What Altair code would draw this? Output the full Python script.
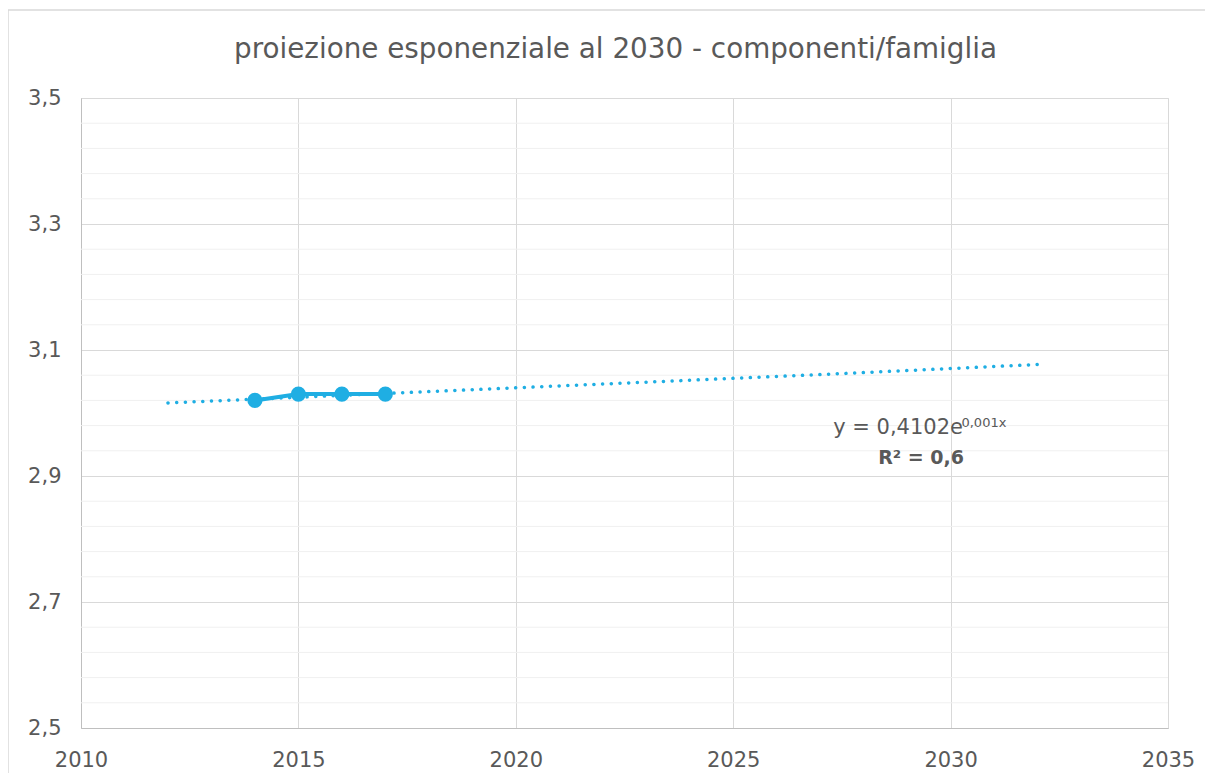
import altair as alt
import pandas as pd

# observed data
years = [2014, 2015, 2016, 2017]
values = [3.02, 3.03, 3.03, 3.03]

# exponential trendline
trend_years = [2012, 2017, 2022, 2027, 2032]
trend_values = [3.016, 3.031, 3.046, 3.061, 3.077]

# axes
x_ticks = [2010, 2015, 2020, 2025, 2030, 2035]
y_ticks = [2.5, 2.7, 2.9, 3.1, 3.3, 3.5]
y_minor = [2.54, 2.58, 2.62, 2.66, 2.74, 2.78, 2.82, 2.86, 2.94, 2.98, 3.02, 3.06,
           3.14, 3.18, 3.22, 3.26, 3.34, 3.38, 3.42, 3.46]

title_text = "proiezione esponenziale al 2030 - componenti/famiglia"
eq_main = "y = 0,4102e"
eq_sup = "0,001x"
r2_text = "R² = 0,6"

FONT = "DejaVu Sans"
TXT = "#595959"
BLUE = "#1FAEE3"
W, H = 1087, 630

df = pd.DataFrame({"year": years, "value": values})
tdf = pd.DataFrame({"year": trend_years, "value": trend_values})
mdf = pd.DataFrame({"value": y_minor})

xs = alt.Scale(domain=[2010, 2035], nice=False, zero=False)
ys = alt.Scale(domain=[2.5, 3.5], nice=False, zero=False)

xaxis = alt.Axis(values=x_ticks, format="d", title=None, grid=True, gridColor="#d9d9d9",
                 domainColor="#bfbfbf", ticks=False, labelFont=FONT, labelFontSize=21,
                 labelColor=TXT, labelPadding=21, labelFlush=False)
yaxis = alt.Axis(values=y_ticks, title=None, grid=True, gridColor="#d9d9d9",
                 domainColor="#bfbfbf", ticks=False, labelFont=FONT, labelFontSize=21,
                 labelColor=TXT, labelPadding=20,
                 labelExpr="replace(format(datum.value, '.1f'), '.', ',')")

border = alt.Chart(pd.DataFrame({"a": [0]})).mark_rect(
    fill=None, stroke="#d9d9d9", strokeWidth=1.5
).encode(x=alt.value(-73), x2=alt.value(1140), y=alt.value(-88), y2=alt.value(700))

title = alt.Chart(pd.DataFrame({"t": [title_text]})).mark_text(
    font=FONT, fontSize=27.8, color=TXT, align="center", baseline="middle"
).encode(x=alt.value(W / 2 - 9), y=alt.value(-48), text="t:N")

minor = alt.Chart(mdf).mark_rule(color="#f0f0f0", strokeWidth=1).encode(
    y=alt.Y("value:Q", scale=ys, axis=yaxis)
)

base_axes = alt.Chart(df).mark_point(opacity=0).encode(
    x=alt.X("year:Q", scale=xs, axis=xaxis),
    y=alt.Y("value:Q", scale=ys, axis=yaxis),
)

trend = alt.Chart(tdf).mark_line(
    color=BLUE, strokeWidth=3.5, strokeDash=[0.1, 8.6], strokeCap="round"
).encode(x=alt.X("year:Q", scale=xs), y=alt.Y("value:Q", scale=ys))

line = alt.Chart(df).mark_line(color=BLUE, strokeWidth=4).encode(
    x=alt.X("year:Q", scale=xs), y=alt.Y("value:Q", scale=ys)
)
pts = alt.Chart(df).mark_circle(color=BLUE, size=230, opacity=1).encode(
    x=alt.X("year:Q", scale=xs), y=alt.Y("value:Q", scale=ys)
)

ann = pd.DataFrame({
    "year": [2027.3, 2030.25, 2029.32],
    "value": [2.976, 2.984, 2.929],
    "label": [eq_main, eq_sup, r2_text],
})
t1 = alt.Chart(ann.iloc[[0]]).mark_text(
    font=FONT, fontSize=21, color=TXT, align="left", baseline="middle"
).encode(x=alt.X("year:Q", scale=xs), y=alt.Y("value:Q", scale=ys), text="label:N")
t2 = alt.Chart(ann.iloc[[1]]).mark_text(
    font=FONT, fontSize=13, color=TXT, align="left", baseline="middle"
).encode(x=alt.X("year:Q", scale=xs), y=alt.Y("value:Q", scale=ys), text="label:N")
t3 = alt.Chart(ann.iloc[[2]]).mark_text(
    font=FONT, fontSize=19, fontWeight="bold", color=TXT, align="center", baseline="middle"
).encode(x=alt.X("year:Q", scale=xs), y=alt.Y("value:Q", scale=ys), text="label:N")

chart = alt.layer(border, title, minor, base_axes, trend, line, pts, t1, t2, t3).properties(
    width=W, height=H,
    autosize=alt.AutoSizeParams(type="none"),
    padding={"left": 73, "top": 90, "right": 37, "bottom": 45},
).configure_view(stroke="#d9d9d9", strokeWidth=1).configure(background="white")

chart.save("out.html", embed_options={"renderer": "svg", "actions": False})
